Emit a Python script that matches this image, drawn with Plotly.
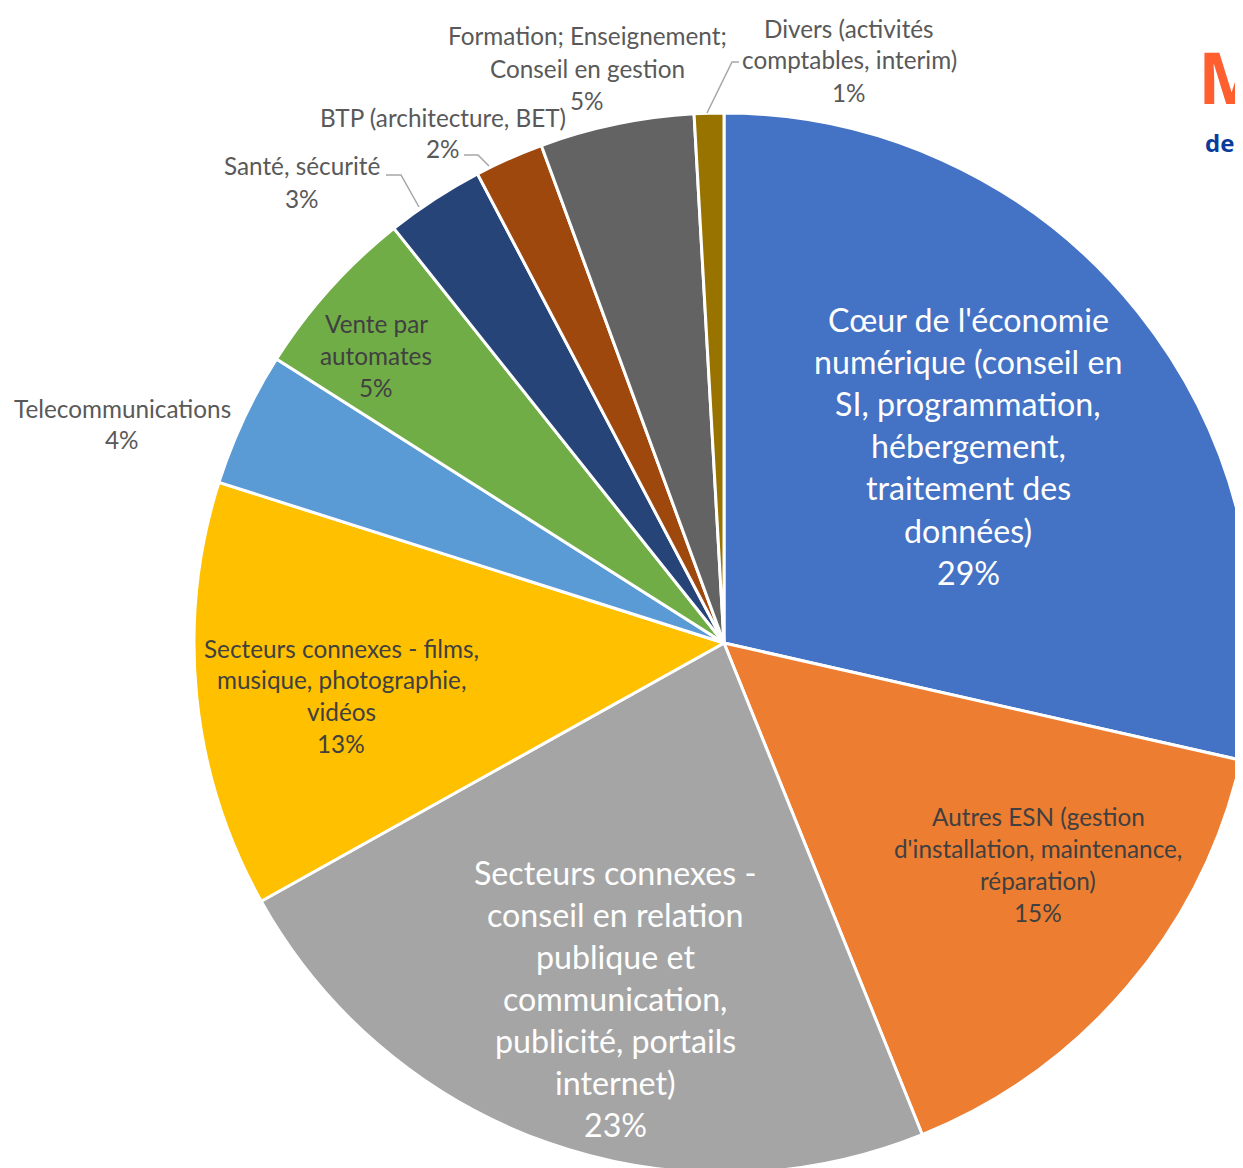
import plotly.graph_objects as go

W, H = 1260, 1185   # figure slightly larger than the window: the pie is cropped at right/bottom
OFF = 8             # page body margin

# ---- data ----
categories = [
    "Cœur de l'économie numérique (conseil en SI, programmation, hébergement, traitement des données)",
    "Autres ESN (gestion d'installation, maintenance, réparation)",
    "Secteurs connexes - conseil en relation publique et communication, publicité, portails internet",
    "Secteurs connexes - films, musique, photographie, vidéos",
    "Telecommunications",
    "Vente par automates",
    "Santé, sécurité",
    "BTP (architecture, BET)",
    "Formation; Enseignement; Conseil en gestion",
    "Divers (activités comptables, interim)",
]
values = [28.55, 15.35, 23.0, 13.0, 4.1, 5.3, 3.0, 2.1, 4.7, 0.9]
label_lines = [
    ["Cœur de l'économie", "numérique (conseil en", "SI, programmation,", "hébergement,", "traitement des", "données)"],
    ["Autres ESN (gestion", "d'installation, maintenance,", "réparation)"],
    ["Secteurs connexes -", "conseil en relation", "publique et", "communication,", "publicité, portails", "internet)"],
    ["Secteurs connexes - films,", "musique, photographie,", "vidéos"],
    ["Telecommunications"],
    ["Vente par", "automates"],
    ["Santé, sécurité"],
    ["BTP (architecture, BET)"],
    ["Formation; Enseignement;", "Conseil en gestion"],
    ["Divers (activités", "comptables, interim)"],
]

# ---- styles ----
colors = ["#4472C4", "#ED7D31", "#A5A5A5", "#FFC000", "#5B9BD5",
          "#70AD47", "#264478", "#9E480E", "#636363", "#997300"]
FONT = "Lato"
SMALL, BIG = 24.3, 32.2
# label placement (screen pixel centre of first line), font size, line spacing, colour
label_style = [
    ((968, 319), BIG, 42.2, "white"),
    ((1038, 816), SMALL, 32, "#404040"),
    ((615, 872), BIG, 42, "white"),
    ((341, 648), SMALL, 31.7, "#404040"),
    ((122, 408), SMALL, 32, "#595959"),
    ((376, 324), SMALL, 31.5, "#404040"),
    ((302, 166), SMALL, 32, "#595959"),
    ((443, 117), SMALL, 32, "#595959"),
    ((587, 36), SMALL, 32, "#595959"),
    ((849, 28), SMALL, 32, "#595959"),
]
leaders = [
    [(386, 175), (401, 175), (419, 207)],
    [(464, 155), (478, 155), (489, 166)],
    [(739, 62), (732, 62), (707, 113)],
]

def X(px):
    return (px - OFF) / W

def Y(py):
    return 1 - (py - OFF) / H

# pie geometry (screen px): centre (724, 643), radius 530
cx, cy, r = 724, 643, 530
fig = go.Figure(go.Pie(
    labels=categories,
    values=values,
    sort=False,
    direction="clockwise",
    rotation=0,
    marker=dict(colors=colors, line=dict(color="white", width=3)),
    textinfo="none",
    hoverinfo="label+percent",
    domain=dict(x=[X(cx - r), X(cx + r)], y=[Y(cy + r), Y(cy - r)]),
    showlegend=False,
))

total = sum(values)
annotations = []
for lines, v, (pos, fs, ls, col) in zip(label_lines, values, label_style):
    pct = f"{int(v / total * 100 + 0.5)}%"
    all_lines = lines + [pct]
    x0, y0 = pos
    for i, t in enumerate(all_lines):
        annotations.append(dict(
            x=X(x0), y=Y(y0 + i * ls), xref="paper", yref="paper",
            text=t, showarrow=False, xanchor="center", yanchor="middle",
            font=dict(family=FONT, size=fs, color=col),
        ))

# partially visible logo at top right
annotations.append(dict(x=X(1196), y=Y(76), xref="paper", yref="paper", text="<b>M</b>",
                        showarrow=False, xanchor="left", yanchor="middle",
                        font=dict(family="Open Sans", size=72, color="#FF5F2E")))
annotations.append(dict(x=X(1203), y=Y(143), xref="paper", yref="paper", text="<b>de</b>",
                        showarrow=False, xanchor="left", yanchor="middle",
                        font=dict(family="Open Sans", size=24, color="#0A3A9A")))

shapes = []
for pts in leaders:
    path = "M " + " L ".join(f"{X(a)},{Y(b)}" for a, b in pts)
    shapes.append(dict(type="path", xref="paper", yref="paper", path=path,
                       line=dict(color="#A6A6A6", width=1.5)))

fig.update_layout(
    width=W, height=H,
    margin=dict(l=0, r=0, t=0, b=0),
    paper_bgcolor="white", plot_bgcolor="white",
    annotations=annotations, shapes=shapes,
)

fig.write_html("out.html")
